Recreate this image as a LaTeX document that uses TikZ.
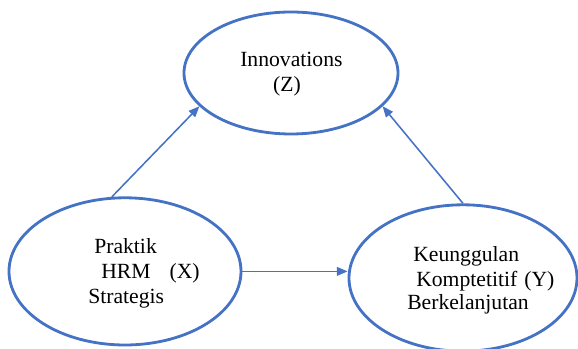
\documentclass[tikz,border=0pt]{standalone}
\usepackage{fontspec}
\setmainfont{Liberation Serif}
\usetikzlibrary{shapes.geometric,arrows.meta}
\definecolor{lineblue}{RGB}{68,114,196}
\tikzset{
  var/.style={ellipse,draw=lineblue,line width=2pt,inner sep=0pt},
  link/.style={draw=lineblue,line width=1.1pt,-{Triangle[length=0.27cm,width=0.22cm]}},
  txt/.style={anchor=base west,inner sep=0pt,font=\fontsize{15.4}{18.5}\selectfont}
}
\begin{document}
\begin{tikzpicture}[x=1cm,y=1cm]
\useasboundingbox (0,0) rectangle (14.45,8.725);
\node[var,minimum width=5.35cm,minimum height=3.05cm] (Z) at (7.275,6.9) {};
\node[var,minimum width=5.8cm,minimum height=3.68cm] (X) at (3.125,1.94) {};
\node[var,minimum width=5.7cm,minimum height=3.66cm] (Y) at (11.575,1.775) {};

\node[txt] (za) at (6.0,7.05) {Innovations};
\node[txt] (zb) at (6.82,6.425) {(Z)};
\node[txt] (xa) at (2.35,2.375) {Praktik};
\node[txt] (xb) at (2.525,1.75) {HRM\hspace{0.475cm}(X)};
\node[txt] (xc) at (2.2,1.14) {Strategis};
\node[txt] (ya) at (10.325,2.175) {Keunggulan};
\node[txt] (yb) at (10.4,1.55) {Komptetitif\hspace{0.175cm}(Y)};
\node[txt] (yc) at (10.175,0.975) {Berkelanjutan};

\draw[link] (X.100) -- (Z.200);
\draw[link] (Y.north) -- (Z.-20);
\draw[link] (X.east) -- (X.east -| Y.west);
\end{tikzpicture}
\end{document}
